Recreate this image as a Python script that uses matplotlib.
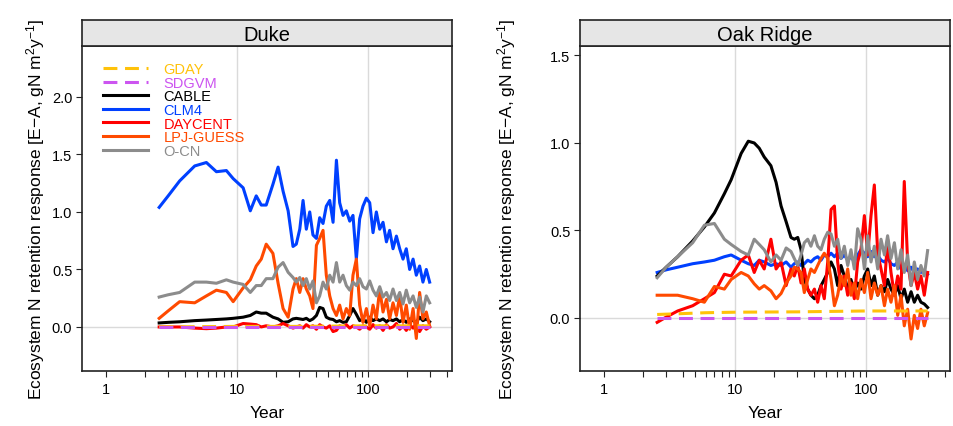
import matplotlib
matplotlib.use('Agg')
import matplotlib.pyplot as plt
from matplotlib.ticker import FixedLocator, FixedFormatter, NullFormatter

plt.rcParams['font.family'] = ['Liberation Sans', 'DejaVu Sans']
plt.rcParams['mathtext.fontset'] = 'custom'
plt.rcParams['mathtext.rm'] = 'Liberation Sans'
plt.rcParams['mathtext.it'] = 'Liberation Sans:italic'
plt.rcParams['mathtext.default'] = 'regular'
plt.rcParams['lines.scale_dashes'] = False

# years shared by the annual model series
years = [2.56, 3.0, 3.67, 4.78, 5.87, 7.0, 8.34, 9.4, 11.2, 12.7, 14.1, 15.4, 16.8, 18.9,
         20.7, 22.6, 24.7, 26.9, 28.5,
         30.3, 32.1, 34.0, 36.1, 38.2, 40.6, 43.0, 45.6, 48.3, 51.3,
         54.4, 57.7, 61.1, 64.8, 68.7, 72.9, 77.2, 81.9, 86.8, 92.0,
         97.7, 103.6, 109.8, 116.4, 123.5, 130.9, 139, 147, 156, 165.6,
         175.5, 186, 197, 209, 222, 235, 249, 264, 280, 297]

# ---- Duke ----
duke_cable = [0.035, 0.04, 0.045, 0.055, 0.06, 0.065, 0.07, 0.075, 0.085, 0.10, 0.13, 0.12, 0.12, 0.085,
              0.07, 0.04, 0.045, 0.07, 0.075,
              0.07, 0.065, 0.075, 0.055, 0.07, 0.10, 0.17, 0.16, 0.085, 0.07,
              0.065, 0.045, 0.055, 0.04, 0.045, 0.10, 0.16, 0.11, 0.055, 0.07,
              0.04, 0.085, 0.055, 0.07, 0.055, 0.07, 0.045, 0.065, 0.055, 0.07,
              0.045, 0.065, 0.04, 0.07, 0.055, 0.04, 0.085, 0.055, 0.07, 0.045]
duke_clm4 = [1.04, 1.14, 1.27, 1.40, 1.43, 1.35, 1.36, 1.29, 1.21, 1.01, 1.14, 1.06, 1.06, 1.24,
             1.39, 1.18, 1.01, 0.70, 0.72,
             0.85, 1.10, 0.85, 1.00, 0.80, 0.77, 0.95, 0.90, 1.05, 1.10,
             0.91, 1.45, 1.08, 0.97, 1.01, 0.92, 0.97, 0.59, 0.94, 1.05,
             1.12, 1.08, 0.82, 1.00, 0.85, 0.91, 0.74, 0.84, 0.68, 0.79,
             0.68, 0.59, 0.68, 0.50, 0.59, 0.45, 0.53, 0.39, 0.50, 0.39]
duke_daycent = [0.0, 0.0, 0.0, -0.01, -0.015, -0.01, 0.0, 0.0, 0.03, 0.025, 0.02, 0.0, 0.01, 0.0,
                0.01, 0.03, 0.01, -0.01, 0.0,
                0.01, -0.01, 0.02, 0.0, 0.01, -0.02, 0.02, 0.0, -0.01, 0.01,
                -0.04, -0.03, 0.01, 0.0, 0.02, -0.01, 0.01, 0.0, -0.02, 0.01,
                0.0, -0.02, 0.02, -0.01, 0.01, -0.03, 0.02, -0.01, 0.0, 0.03,
                -0.02, 0.01, -0.03, 0.02, -0.01, 0.03, -0.04, 0.01, -0.02, 0.0]
duke_lpj = [0.075, 0.14, 0.22, 0.21, 0.27, 0.32, 0.30, 0.22, 0.34, 0.41, 0.53, 0.59, 0.72, 0.64,
            0.38, 0.16, 0.085, 0.33, 0.42,
            0.30, 0.42, 0.33, 0.27, 0.16, 0.71, 0.77, 0.84, 0.45, 0.27,
            0.16, 0.10, 0.19, 0.07, 0.16, 0.10, 0.45, 0.59, 0.19, 0.04,
            0.16, 0.01, 0.19, 0.07, 0.33, 0.13, 0.24, 0.07, 0.21, 0.10,
            0.27, 0.04, 0.19, -0.02, 0.16, -0.10, 0.30, 0.07, 0.13, 0.01]
duke_ocn = [0.26, 0.28, 0.30, 0.39, 0.39, 0.38, 0.41, 0.39, 0.37, 0.30, 0.36, 0.36, 0.42, 0.42,
            0.52, 0.56, 0.475, 0.43, 0.39,
            0.43, 0.36, 0.42, 0.33, 0.40, 0.21, 0.27, 0.39, 0.33, 0.45,
            0.39, 0.56, 0.39, 0.45, 0.36, 0.32, 0.39, 0.36, 0.42, 0.35,
            0.33, 0.40, 0.32, 0.27, 0.35, 0.26, 0.30, 0.23, 0.33, 0.23,
            0.30, 0.20, 0.32, 0.21, 0.27, 0.17, 0.26, 0.13, 0.27, 0.21]
duke_gday_years = [2.56, 10, 30, 100, 200, 297]
duke_gday = [0.0, 0.005, 0.005, 0.01, 0.01, 0.01]
duke_sdgvm_years = [2.56, 10, 100, 297]
duke_sdgvm = [0.0, 0.0, 0.0, 0.0]

# ---- Oak Ridge ----
oak_cable = [0.24, 0.29, 0.35, 0.44, 0.52, 0.60, 0.71, 0.79, 0.94, 1.01, 1.00, 0.97, 0.92, 0.87,
             0.775, 0.64, 0.55, 0.46, 0.45,
             0.46, 0.39, 0.22, 0.165, 0.13, 0.11, 0.13, 0.185, 0.22, 0.26,
             0.32, 0.28, 0.185, 0.30, 0.24, 0.165, 0.22, 0.15, 0.20, 0.165,
             0.24, 0.28, 0.185, 0.24, 0.13, 0.185, 0.15, 0.22, 0.165, 0.13,
             0.185, 0.11, 0.165, 0.09, 0.15, 0.09, 0.13, 0.09, 0.08, 0.06]
oak_clm4 = [0.26, 0.275, 0.29, 0.31, 0.32, 0.33, 0.35, 0.36, 0.33, 0.31, 0.30, 0.33, 0.32, 0.30,
            0.31, 0.30, 0.32, 0.29, 0.31,
            0.32, 0.30, 0.31, 0.33, 0.32, 0.34, 0.35, 0.33, 0.36, 0.35,
            0.37, 0.35, 0.37, 0.34, 0.36, 0.33, 0.35, 0.32, 0.36, 0.39,
            0.37, 0.35, 0.38, 0.35, 0.36, 0.33, 0.32, 0.34, 0.31, 0.30,
            0.32, 0.28, 0.30, 0.27, 0.29, 0.26, 0.28, 0.26, 0.27, 0.25]
oak_daycent = [-0.025, 0.005, 0.04, 0.07, 0.11, 0.145, 0.25, 0.24, 0.33, 0.36, 0.26, 0.33, 0.28, 0.45,
               0.28, 0.32, 0.185, 0.28, 0.24,
               0.30, 0.20, 0.28, 0.165, 0.13, 0.165, 0.09, 0.185, 0.11, 0.32,
               0.62, 0.64, 0.32, 0.165, 0.24, 0.13, 0.20, 0.11, 0.32, 0.39,
               0.585, 0.36, 0.585, 0.76, 0.37, 0.28, 0.185, 0.45, 0.26, 0.13,
               0.24, 0.165, 0.78, 0.32, 0.185, 0.26, 0.165, 0.24, 0.13, 0.26]
oak_lpj = [0.13, 0.13, 0.13, 0.11, 0.09, 0.18, 0.165, 0.22, 0.26, 0.24, 0.195, 0.165, 0.185, 0.155,
           0.11, 0.14, 0.20, 0.24, 0.29,
           0.28, 0.26, 0.145, 0.22, 0.28, 0.26, 0.30, 0.34, 0.37, 0.34,
           0.22, 0.07, 0.13, 0.24, 0.185, 0.28, 0.13, 0.20, 0.11, 0.22,
           0.145, 0.26, 0.11, 0.20, 0.13, 0.185, 0.07, 0.165, 0.09, 0.185,
           0.015, 0.13, -0.045, 0.05, -0.12, 0.015, -0.06, 0.05, -0.045, 0.03]
oak_ocn = [0.23, 0.29, 0.35, 0.43, 0.53, 0.54, 0.45, 0.42, 0.38, 0.36, 0.45, 0.42, 0.39, 0.32,
           0.36, 0.33, 0.40, 0.38, 0.34,
           0.30, 0.36, 0.43, 0.45, 0.41, 0.47, 0.41, 0.39, 0.45, 0.49,
           0.48, 0.41, 0.45, 0.34, 0.41, 0.30, 0.39, 0.28, 0.51, 0.45,
           0.28, 0.47, 0.32, 0.41, 0.28, 0.45, 0.36, 0.47, 0.34, 0.43,
           0.28, 0.39, 0.26, 0.36, 0.185, 0.32, 0.22, 0.30, 0.24, 0.385]
oak_gday_years = [2.56, 4.0, 6.0, 10, 30, 100, 297]
oak_gday = [0.02, 0.025, 0.03, 0.033, 0.035, 0.04, 0.04]
oak_sdgvm_years = [2.56, 10, 100, 297]
oak_sdgvm = [0.0, 0.0, 0.0, 0.0]

colors = {'GDAY': '#FFC20A', 'SDGVM': '#CC55F0', 'CABLE': '#000000', 'CLM4': '#0040FF',
          'DAYCENT': '#FF0000', 'LPJ-GUESS': '#FF4A00', 'O-CN': '#8C8C8C'}
legend_order = ['GDAY', 'SDGVM', 'CABLE', 'CLM4', 'DAYCENT', 'LPJ-GUESS', 'O-CN']

minor_x = [m * d for d in (1, 10, 100) for m in range(2, 10) if m * d <= 400]
ylabel = 'Ecosystem N retention response [E\u2212A, gN m$^{2}$y$^{-1}$]'


def draw_panel(rect, title, data, ylim, yticks, label_x, show_legend):
    ax = fig.add_axes(rect)
    strip = fig.add_axes([rect[0], rect[1] + rect[3], rect[2], 0.0609])
    strip.set_facecolor('#E6E6E6')
    strip.set_xticks([])
    strip.set_yticks([])
    for s in strip.spines.values():
        s.set_linewidth(1.2)
        s.set_color('#222222')
    strip.text(0.5, 0.45, title, ha='center', va='center', fontsize=14.5)

    ax.axvline(10, color='#DADADA', lw=1.0, zorder=0)
    ax.axvline(100, color='#DADADA', lw=1.0, zorder=0)
    ax.axhline(0, color='#DADADA', lw=1.0, zorder=0)

    lines = {}
    for name in ['CLM4', 'CABLE', 'DAYCENT', 'LPJ-GUESS', 'O-CN']:
        lines[name], = ax.plot(years, data[name], color=colors[name], lw=2.2,
                               label=name, solid_joinstyle='round')
    for name in ['GDAY', 'SDGVM']:
        xs, ys = data[name]
        lines[name], = ax.plot(xs, ys, color=colors[name], lw=2.2, label=name,
                               dashes=(10, 5.5))

    ax.set_xscale('log')
    ax.set_xlim(0.66, 440)
    ax.set_ylim(*ylim)
    ax.xaxis.set_major_locator(FixedLocator([1, 10, 100]))
    ax.xaxis.set_major_formatter(FixedFormatter(['1', '10', '100']))
    ax.xaxis.set_minor_locator(FixedLocator(minor_x))
    ax.xaxis.set_minor_formatter(NullFormatter())
    ax.set_yticks(yticks)
    ax.set_yticklabels([f'{v:.1f}' for v in yticks])
    ax.tick_params(which='both', direction='out', length=4, width=0.8,
                   labelsize=10.5, color='#222222')
    ax.tick_params(axis='x', pad=3.6)
    ax.tick_params(axis='y', pad=3)
    for s in ax.spines.values():
        s.set_linewidth(1.2)
        s.set_color('#222222')

    ax.set_xlabel('Year', fontsize=12.5)
    ax.xaxis.set_label_coords(0.5, -0.105)
    ax.set_ylabel(ylabel, fontsize=12.5)
    ax.yaxis.set_label_coords(label_x, 0.5)

    if show_legend:
        ax.legend(handles=[lines[n] for n in legend_order], loc='upper left',
                  bbox_to_anchor=(0.057, 0.95), frameon=False, fontsize=10.5,
                  handlelength=3.1, handletextpad=1.05, labelspacing=-0.03,
                  borderpad=0, borderaxespad=0, labelcolor='linecolor')
    return ax


fig = plt.figure(figsize=(9.54, 4.27), dpi=100)

duke = {'CABLE': duke_cable, 'CLM4': duke_clm4, 'DAYCENT': duke_daycent,
        'LPJ-GUESS': duke_lpj, 'O-CN': duke_ocn,
        'GDAY': (duke_gday_years, duke_gday), 'SDGVM': (duke_sdgvm_years, duke_sdgvm)}
oak = {'CABLE': oak_cable, 'CLM4': oak_clm4, 'DAYCENT': oak_daycent,
       'LPJ-GUESS': oak_lpj, 'O-CN': oak_ocn,
       'GDAY': (oak_gday_years, oak_gday), 'SDGVM': (oak_sdgvm_years, oak_sdgvm)}

draw_panel([0.086, 0.1288, 0.3878, 0.7611], 'Duke', duke, (-0.383, 2.443),
           [0.0, 0.5, 1.0, 1.5, 2.0], -0.0946, True)
draw_panel([0.608, 0.1288, 0.3878, 0.7611], 'Oak Ridge', oak, (-0.303, 1.554),
           [0.0, 0.5, 1.0, 1.5], -0.1676, False)

fig.savefig('out.png', dpi=100)
